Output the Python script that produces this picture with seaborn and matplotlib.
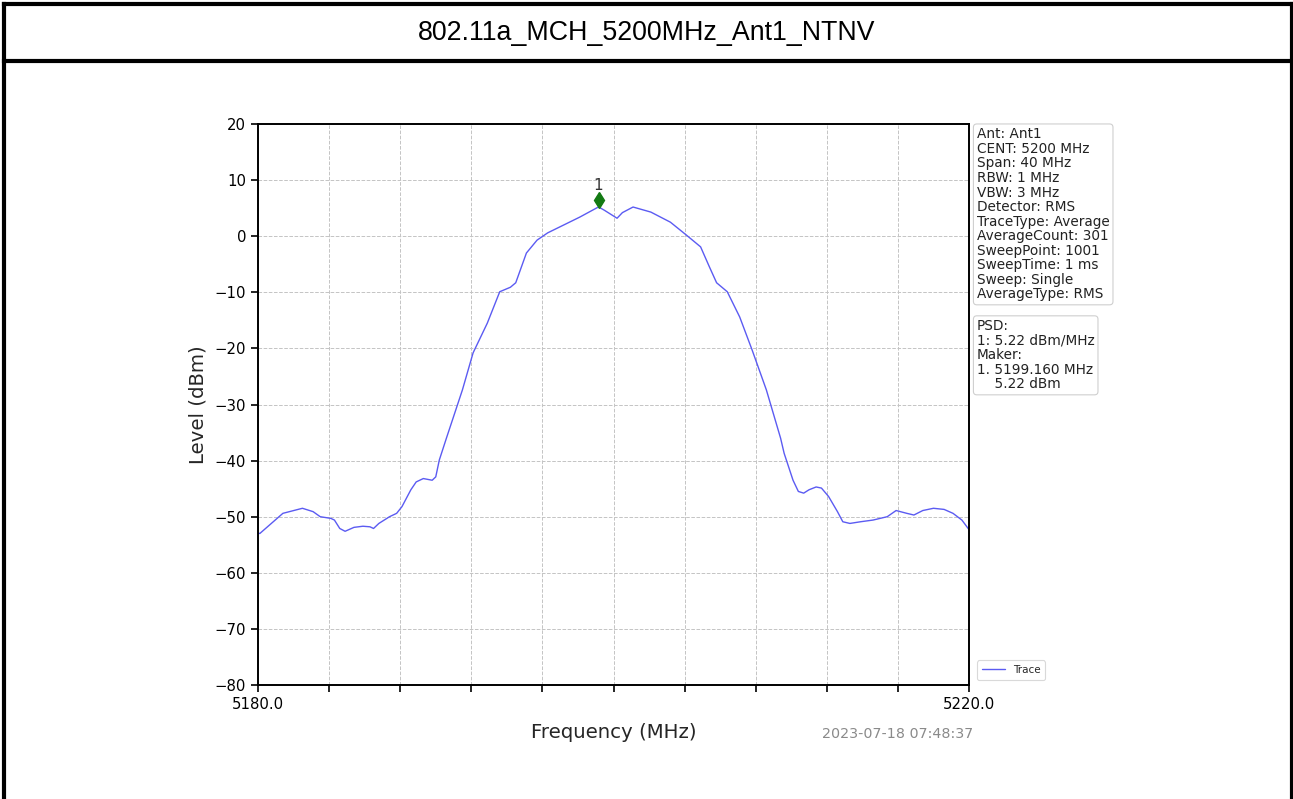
import numpy as np
import pandas as pd
import matplotlib
matplotlib.use("Agg")
import matplotlib.pyplot as plt
import matplotlib.transforms as mtransforms
from matplotlib.lines import Line2D
import seaborn as sns

# Spectrum trace (MHz, dBm)
freq_mhz = [
    5180.0, 5180.1, 5181.4, 5182.5, 5183.1, 5183.5, 5184.1, 5184.3, 5184.6,
    5184.9, 5185.4, 5185.9, 5186.3, 5186.5, 5186.8, 5187.4, 5187.8, 5188.1,
    5188.6, 5188.9, 5189.3, 5189.8, 5190.0, 5190.2, 5190.6, 5191.5, 5192.1,
    5192.9, 5193.6, 5194.2, 5194.5, 5195.1, 5195.7, 5196.3, 5197.2, 5198.1,
    5199.16, 5199.5, 5200.2, 5200.5, 5201.1, 5202.1, 5203.2, 5204.1, 5204.9,
    5205.4, 5205.8, 5206.4, 5207.1, 5207.8, 5208.6, 5209.4, 5209.6, 5210.1,
    5210.4, 5210.7, 5211.0, 5211.4, 5211.7, 5212.1, 5212.6, 5212.9, 5213.3,
    5213.9, 5214.6, 5215.4, 5215.9, 5216.5, 5216.9, 5217.4, 5218.0, 5218.6,
    5219.1, 5219.6, 5220.0,
]
level_dbm = [
    -52.9, -53.0, -49.4, -48.5, -49.1, -50.0, -50.3, -50.6, -52.1,
    -52.6, -51.9, -51.7, -51.8, -52.1, -51.2, -50.0, -49.4, -48.2,
    -45.2, -43.8, -43.2, -43.5, -42.9, -39.9, -36.0, -27.4, -20.8,
    -15.5, -9.9, -9.1, -8.3, -3.0, -0.7, 0.6, 2.0, 3.4,
    5.22, 4.6, 3.2, 4.2, 5.2, 4.3, 2.5, 0.2, -1.9,
    -5.5, -8.3, -9.9, -14.4, -20.3, -27.4, -36.0, -38.7, -43.5,
    -45.5, -45.8, -45.2, -44.7, -44.9, -46.4, -49.1, -50.9, -51.2,
    -50.9, -50.6, -50.0, -48.9, -49.4, -49.7, -48.9, -48.5, -48.7,
    -49.4, -50.6, -52.3,
]

marker_freq = 5199.160
marker_level = 5.22

y_ticks = [-80, -70, -60, -50, -40, -30, -20, -10, 0, 10, 20]
x_ticks = [5180, 5184, 5188, 5192, 5196, 5200, 5204, 5208, 5212, 5216, 5220]
x_ticklabels = ["5180.0", "", "", "", "", "", "", "", "", "", "5220.0"]

settings_lines = [
    "Ant: Ant1",
    "CENT: 5200 MHz",
    "Span: 40 MHz",
    "RBW: 1 MHz",
    "VBW: 3 MHz",
    "Detector: RMS",
    "TraceType: Average",
    "AverageCount: 301",
    "SweepPoint: 1001",
    "SweepTime: 1 ms",
    "Sweep: Single",
    "AverageType: RMS",
]
result_lines = [
    "PSD:",
    "1: 5.22 dBm/MHz",
    "Maker:",
    "1. 5199.160 MHz",
    "    5.22 dBm",
]

title = "802.11a_MCH_5200MHz_Ant1_NTNV"
timestamp = "2023-07-18 07:48:37"

sns.set_theme(style="white")
plt.rcParams["font.family"] = ["DejaVu Sans"]

W, H = 1293, 799
fig = plt.figure(figsize=(W / 100, H / 100), dpi=100)
fig.patch.set_facecolor("white")

# Report table frame with title row
lw_frame = 3
x_left = 4 / W
x_right = 1 - 1.5 / W
y_top = 1 - 3.5 / H
y_row = 1 - 61 / H
for yy in (y_top, y_row):
    fig.add_artist(Line2D([x_left, x_right], [yy, yy], transform=fig.transFigure,
                          color="black", lw=lw_frame, solid_capstyle="projecting"))
for xx in (x_left, x_right):
    fig.add_artist(Line2D([xx, xx], [0, y_top], transform=fig.transFigure,
                          color="black", lw=lw_frame, solid_capstyle="projecting"))
fig.text(0.5, 1 - 33 / H, title, ha="center", va="center", fontsize=19.3,
         family=["Liberation Sans", "DejaVu Sans"], color="black")

# Spectrum plot
ax = fig.add_axes([258 / W, 1 - 685 / H, (969 - 258) / W, (685 - 124) / H])
df = pd.DataFrame({"Frequency": freq_mhz, "Level": level_dbm})
sns.lineplot(data=df, x="Frequency", y="Level", ax=ax, color="#5b5bf2",
             lw=1.0, label="Trace", sort=False, estimator=None)

ax.set_xlim(5180, 5220)
ax.set_ylim(-80, 20)
ax.set_yticks(y_ticks)
ax.set_xticks(x_ticks)
ax.set_xticklabels(x_ticklabels)
ax.tick_params(axis="both", direction="out", length=5, width=1.2, colors="black",
               labelsize=10.7, bottom=True, left=True)
ax.grid(True, color="#c4c4c4", linestyle="--", linewidth=0.7)
for s in ax.spines.values():
    s.set_color("black")
    s.set_linewidth(1.4)

ax.set_xlabel("Frequency (MHz)", fontsize=14.2, labelpad=8)
ax.set_ylabel("Level (dBm)", fontsize=14.2, labelpad=5)

# Peak marker, lifted a few points above the trace
marker_tr = mtransforms.offset_copy(ax.transData, fig=fig, x=0, y=7, units="dots")
ax.plot([marker_freq], [marker_level], marker="d", color="#137a13", markersize=8,
        linestyle="none", transform=marker_tr)
label_tr = mtransforms.offset_copy(ax.transData, fig=fig, x=0, y=21, units="dots")
ax.text(marker_freq, marker_level, "1", ha="center", va="center", fontsize=11,
        color="#333333", transform=label_tr)

# Instrument settings and results
box = dict(boxstyle="round,pad=0.25", fc="white", ec="#cfcfcf", lw=0.8)
ax.text(1.011, 0.994, "\n".join(settings_lines), transform=ax.transAxes,
        ha="left", va="top", fontsize=9.8, color="#222222", linespacing=1.05, bbox=box)
ax.text(1.011, 0.652, "\n".join(result_lines), transform=ax.transAxes,
        ha="left", va="top", fontsize=9.8, color="#222222", linespacing=1.05, bbox=box)

leg = ax.legend(loc="lower left", bbox_to_anchor=(1.004, 0.0), fontsize=7.5,
                frameon=True, handlelength=2.2, borderpad=0.45)
leg.get_frame().set_edgecolor("#d0d0d0")
leg.get_frame().set_linewidth(0.8)

fig.text(822 / W, 1 - 734 / H, timestamp, ha="left", va="center", fontsize=10.3,
         color="#8a8a8a")

fig.savefig("out.png", dpi=100, facecolor="white")
